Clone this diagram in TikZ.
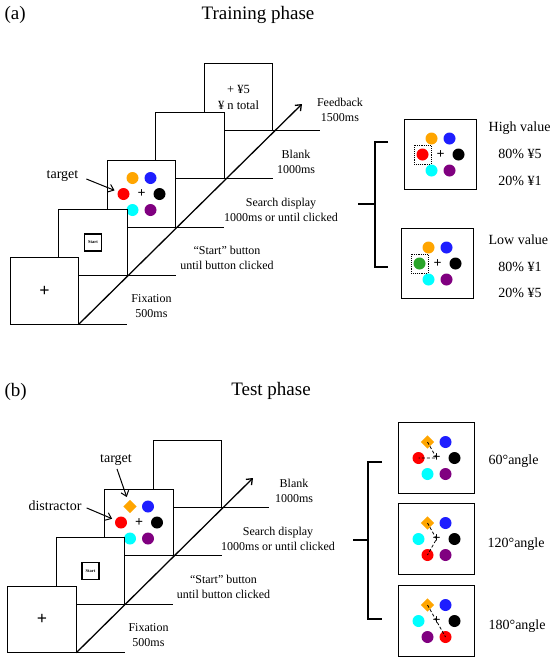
\documentclass[tikz,border=0pt]{standalone}
\usepackage{fontspec}
\setmainfont{Liberation Serif}
\usetikzlibrary{positioning,shapes.geometric,arrows.meta}
\definecolor{DotOrange}{HTML}{FFA500}
\definecolor{DotBlue}{HTML}{1E1EFF}
\definecolor{DotRed}{HTML}{FF0000}
\definecolor{DotCyan}{HTML}{00FFFF}
\definecolor{DotPurple}{HTML}{800080}
\definecolor{DotGreen}{HTML}{2AA52A}

\begin{document}
\begin{tikzpicture}[
    x=1pt,y=-1pt,
    line width=1.3pt,
    >={Straight Barb[length=5pt,width=8pt]},
    screen/.style={draw,fill=white,outer sep=0pt,inner sep=0pt,minimum width=68.5pt,minimum height=66.5pt,align=center,font=\fontsize{12.5}{16}\selectfont},
    panel/.style={draw,outer sep=0pt,minimum width=72pt,minimum height=70pt},
    startbtn/.style={draw,line width=1.1pt,minimum size=17pt,inner sep=0pt,font=\fontsize{4.5}{5}\bfseries\selectfont},
    stagetxt/.style={align=center,font=\fontsize{12}{15}\selectfont},
    heading/.style={inner sep=0pt,font=\fontsize{19}{22}\selectfont},
    cue/.style={inner sep=0pt,font=\fontsize{14}{16}\selectfont},
    pointer/.style={->,line width=1pt},
    dot/.style={circle,fill=#1,inner sep=0pt,minimum size=12pt},
    gem/.style={diamond,fill=DotOrange,inner sep=0pt,minimum size=14pt},
    fixcross/.style={inner sep=0pt,font=\fontsize{14}{14}\bfseries\selectfont},
    tbox/.style={draw,densely dotted,line width=0.9pt,minimum width=17pt,minimum height=19pt,inner sep=0pt},
    gaze/.style={densely dashed,line width=0.8pt},
    bracket/.style={line width=1.2pt},
    pics/array/.style n args={6}{code={
      \node[#1] (-tl) at (-9,-16) {};
      \node[#2] (-tr) at (9,-16) {};
      \node[#3] (-l) at (-18,0) {};
      \node[#4] (-r) at (18,0) {};
      \node[#5] (-bl) at (-9,16) {};
      \node[#6] (-br) at (9,16) {};
      \node[fixcross] (-c) at (0,0) {+};
    }}
  ]
    \useasboundingbox (0,0) rectangle (550,662);

    % (a) training phase
    \node[heading,anchor=west] (taga) at (4,15) {(a)};
    \node[heading] (titlea) at (258,15) {Training phase};

    % screens from back to front
    \node[screen] (fba) at (238.5,97) {+ ¥5\\¥ n total};
    \node[screen,below left=-18pt and -20pt of fba] (blanka) {};
    \node[screen,below left=-18pt and -20pt of blanka] (searcha) {};
    \pic (sa) at (searcha) {array={dot=DotOrange}{dot=DotBlue}{dot=DotRed}{dot=black}{dot=DotCyan}{dot=DotPurple}};
    \node[screen,below left=-18pt and -20pt of searcha] (starta) {};
    \node[startbtn] (btna) at (starta) {Start};
    \node[screen,below left=-18pt and -20pt of starta,font=\fontsize{18}{18}\bfseries\selectfont] (fixa) {+};

    \draw (fixa.south east) -- (fixa.south east -| starta.east);
    \draw (starta.south east) -- (starta.south east -| searcha.east);
    \draw (searcha.south east) -- (searcha.south east -| blanka.east);
    \draw (blanka.south east) -- (blanka.south east -| fba.east);
    \coordinate[right=47pt of fba.south east] (enda);
    \draw (fba.south east) -- (enda);
    \coordinate (tipa) at (302,104);
    \draw[->] (fixa.south east) -- (tipa);

    \node[stagetxt] (fixtxta) at (151.5,306) {Fixation\\500ms};
    \node[stagetxt] (starttxta) at (227,258) {“Start” button\\until button clicked};
    \node[stagetxt] (searchtxta) at (281,210) {Search display\\1000ms or until clicked};
    \node[stagetxt] (blanktxta) at (296,162) {Blank\\1000ms};
    \node[stagetxt] (fbtxta) at (340,110) {Feedback\\1500ms};

    \node[cue] (tgta) at (62.5,176) {target};
    \draw[pointer,shorten <=8pt,shorten >=3pt] (tgta.east) -- (sa-l);

    % high / low value displays
    \node[panel] (higha) at (440.5,154.5) {};
    \pic (hv) at (higha) {array={dot=DotOrange}{dot=DotBlue}{dot=DotRed}{dot=black}{dot=DotCyan}{dot=DotPurple}};
    \node[tbox] (hvsq) at (hv-l) {};
    \node[panel] (lowa) at (437.5,263.5) {};
    \pic (lv) at (lowa) {array={dot=DotOrange}{dot=DotBlue}{dot=DotGreen}{dot=black}{dot=DotCyan}{dot=DotPurple}};
    \node[tbox] (lvsq) at (lv-l) {};

    \node[cue,anchor=west] (hightxt) at (488,128) {High value};
    \node[cue] (highp1) at (520,154) {80\% ¥5};
    \node[cue] (highp2) at (520,181) {20\% ¥1};
    \node[cue,anchor=west] (lowtxt) at (488,240) {Low value};
    \node[cue] (lowp1) at (520,267) {80\% ¥1};
    \node[cue] (lowp2) at (520,293) {20\% ¥5};

    \coordinate (bra) at (375,204);
    \coordinate (brastub) at (358,204);
    \coordinate (bratop) at (388,142);
    \coordinate (brabot) at (388,267);
    \draw[bracket] (bratop) -| (bra) |- (brabot);
    \draw[bracket] (brastub) -- (bra);

    % (b) test phase
    \node[heading,anchor=west] (tagb) at (4,392) {(b)};
    \node[heading] (titleb) at (271,391) {Test phase};

    \node[screen] (blankb) at (187.5,474) {};
    \node[screen,below left=-18pt and -20pt of blankb] (searchb) {};
    \pic (sb) at (searchb) {array={gem}{dot=DotBlue}{dot=DotRed}{dot=black}{dot=DotCyan}{dot=DotPurple}};
    \node[screen,below left=-18pt and -20pt of searchb] (startb) {};
    \node[startbtn] (btnb) at (startb) {Start};
    \node[screen,below left=-18pt and -20pt of startb,font=\fontsize{18}{18}\bfseries\selectfont] (fixb) {+};

    \draw (fixb.south east) -- (fixb.south east -| startb.east);
    \draw (startb.south east) -- (startb.south east -| searchb.east);
    \draw (searchb.south east) -- (searchb.south east -| blankb.east);
    \coordinate[right=47pt of blankb.south east] (endb);
    \draw (blankb.south east) -- (endb);
    \coordinate (tipb) at (253,478);
    \draw[->] (fixb.south east) -- (tipb);

    \node[stagetxt] (fixtxtb) at (148.5,635) {Fixation\\500ms};
    \node[stagetxt] (starttxtb) at (223.5,587) {“Start” button\\until button clicked};
    \node[stagetxt] (searchtxtb) at (278,539) {Search display\\1000ms or until clicked};
    \node[stagetxt] (blanktxtb) at (294,491) {Blank\\1000ms};

    \node[cue] (tgtb) at (116,460) {target};
    \draw[pointer,shorten <=3pt,shorten >=4pt] (tgtb.south) -- (sb-tl);
    \node[cue] (disb) at (55,506) {distractor};
    \draw[pointer,shorten <=5pt,shorten >=3pt] (disb.east) -- (sb-l);

    % angle displays
    \node[panel,minimum width=76pt,minimum height=71pt] (ang1) at (436.5,458) {};
    \pic (t1) at (ang1) {array={gem}{dot=DotBlue}{dot=DotRed}{dot=black}{dot=DotCyan}{dot=DotPurple}};
    \draw[gaze] (t1-tl.center) -- (t1-c.center) -- (t1-l.center);
    \node[panel,minimum width=76pt,minimum height=71pt] (ang2) at (436.5,539) {};
    \pic (t2) at (ang2) {array={gem}{dot=DotBlue}{dot=DotCyan}{dot=black}{dot=DotRed}{dot=DotPurple}};
    \draw[gaze] (t2-tl.center) -- (t2-c.center) -- (t2-bl.center);
    \node[panel,minimum width=76pt,minimum height=71pt] (ang3) at (436.5,621) {};
    \pic (t3) at (ang3) {array={gem}{dot=DotBlue}{dot=DotCyan}{dot=black}{dot=DotPurple}{dot=DotRed}};
    \draw[gaze] (t3-tl.center) -- (t3-c.center) -- (t3-br.center);

    \node[cue,anchor=west] (ang1txt) at (488,461) {60°angle};
    \node[cue,anchor=west] (ang2txt) at (487,544) {120°angle};
    \node[cue,anchor=west] (ang3txt) at (488,626) {180°angle};

    \coordinate (brb) at (368,540);
    \coordinate (brbstub) at (353,540);
    \coordinate (brbtop) at (382,462);
    \coordinate (brbbot) at (382,619);
    \draw[bracket] (brbtop) -| (brb) |- (brbbot);
    \draw[bracket] (brbstub) -- (brb);
  \end{tikzpicture}
\end{document}
